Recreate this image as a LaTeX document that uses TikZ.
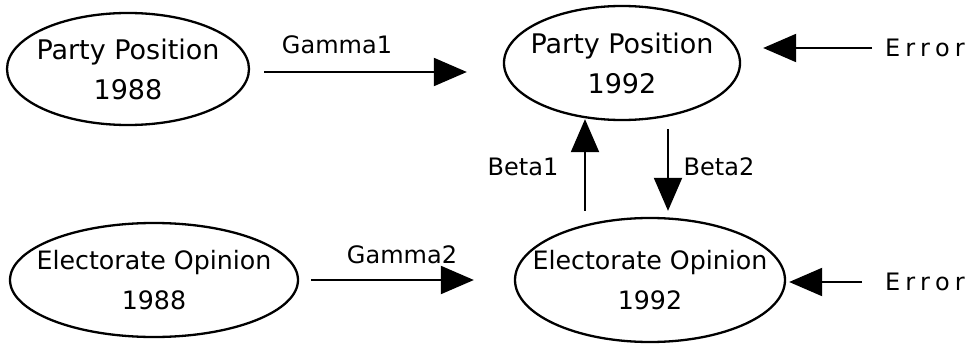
\documentclass[tikz,border=0pt]{standalone}
\usepackage{fontspec}
\setmainfont{DejaVu Sans}
\usetikzlibrary{shapes.geometric,arrows.meta}
\tikzset{
  var/.style={draw, ellipse, line width=2.3pt, inner sep=0pt},
  vtxt/.style={inner sep=0pt, align=center, font=\fontsize{27}{40}\selectfont},
  vtxtw/.style={vtxt, font=\fontsize{25.3}{40}\selectfont},
  arr/.style={line width=2.1pt, -{Triangle[length=33pt,width=28pt]}},
  lab/.style={inner sep=0pt, font=\fontsize{24}{28}\selectfont},
}
\newcommand{\spacederror}{E\kern5pt r\kern5pt r\kern5pt o\kern5pt r}
\begin{document}
\begin{tikzpicture}[x=1pt,y=-1pt]
\useasboundingbox (0,0) rectangle (978,345);
\node[var, minimum width=242pt, minimum height=112pt] (pp88) at (128,69) {};
\node[vtxt] (pp88t) at (pp88) {Party Position\\1988};
\node[var, minimum width=236pt, minimum height=114pt] (pp92) at (622,63) {};
\node[vtxt] (pp92t) at (pp92) {Party Position\\1992};
\node[var, minimum width=288pt, minimum height=114pt] (eo88) at (154,280) {};
\node[vtxtw] (eo88t) at (eo88) {Electorate Opinion\\1988};
\node[var, minimum width=270pt, minimum height=124pt] (eo92) at (650,280) {};
\node[vtxtw] (eo92t) at (eo92) {Electorate Opinion\\1992};
\node[lab, anchor=west] (e1) at (885,48) {\spacederror};
\node[lab, anchor=west] (e2) at (885,282) {\spacederror};
\path (585,0) coordinate (b1x) (668,0) coordinate (b2x);
% Gamma1
\draw[arr, shorten <=14pt, shorten >=36pt] ([yshift=-3pt]pp88.east) -- ([yshift=-3pt]pp88.east -| pp92.west);
\node[lab] (g1) at (337,45) {Gamma1};
% Gamma2
\draw[arr, shorten <=12pt, shorten >=40pt] (eo88.east) -- (eo88.east -| eo92.west);
\node[lab] (g2) at (402,255) {Gamma2};
% Beta1, Beta2
\draw[arr, shorten <=6pt, shorten >=-2pt] (eo92.north -| b1x) -- (pp92.south -| b1x);
\node[lab] (bt1) at (523,167) {Beta1};
\draw[arr, shorten <=8pt, shorten >=6pt] (pp92.south -| b2x) -- (eo92.north -| b2x);
\node[lab] (bt2) at (719,167) {Beta2};
% Errors
\draw[arr, shorten <=13pt, shorten >=22pt] (e1.west) -- (e1.west -| pp92.east);
\draw[arr, shorten <=23pt, shorten >=3pt] (e2.west) -- (e2.west -| eo92.east);
\end{tikzpicture}
\end{document}
